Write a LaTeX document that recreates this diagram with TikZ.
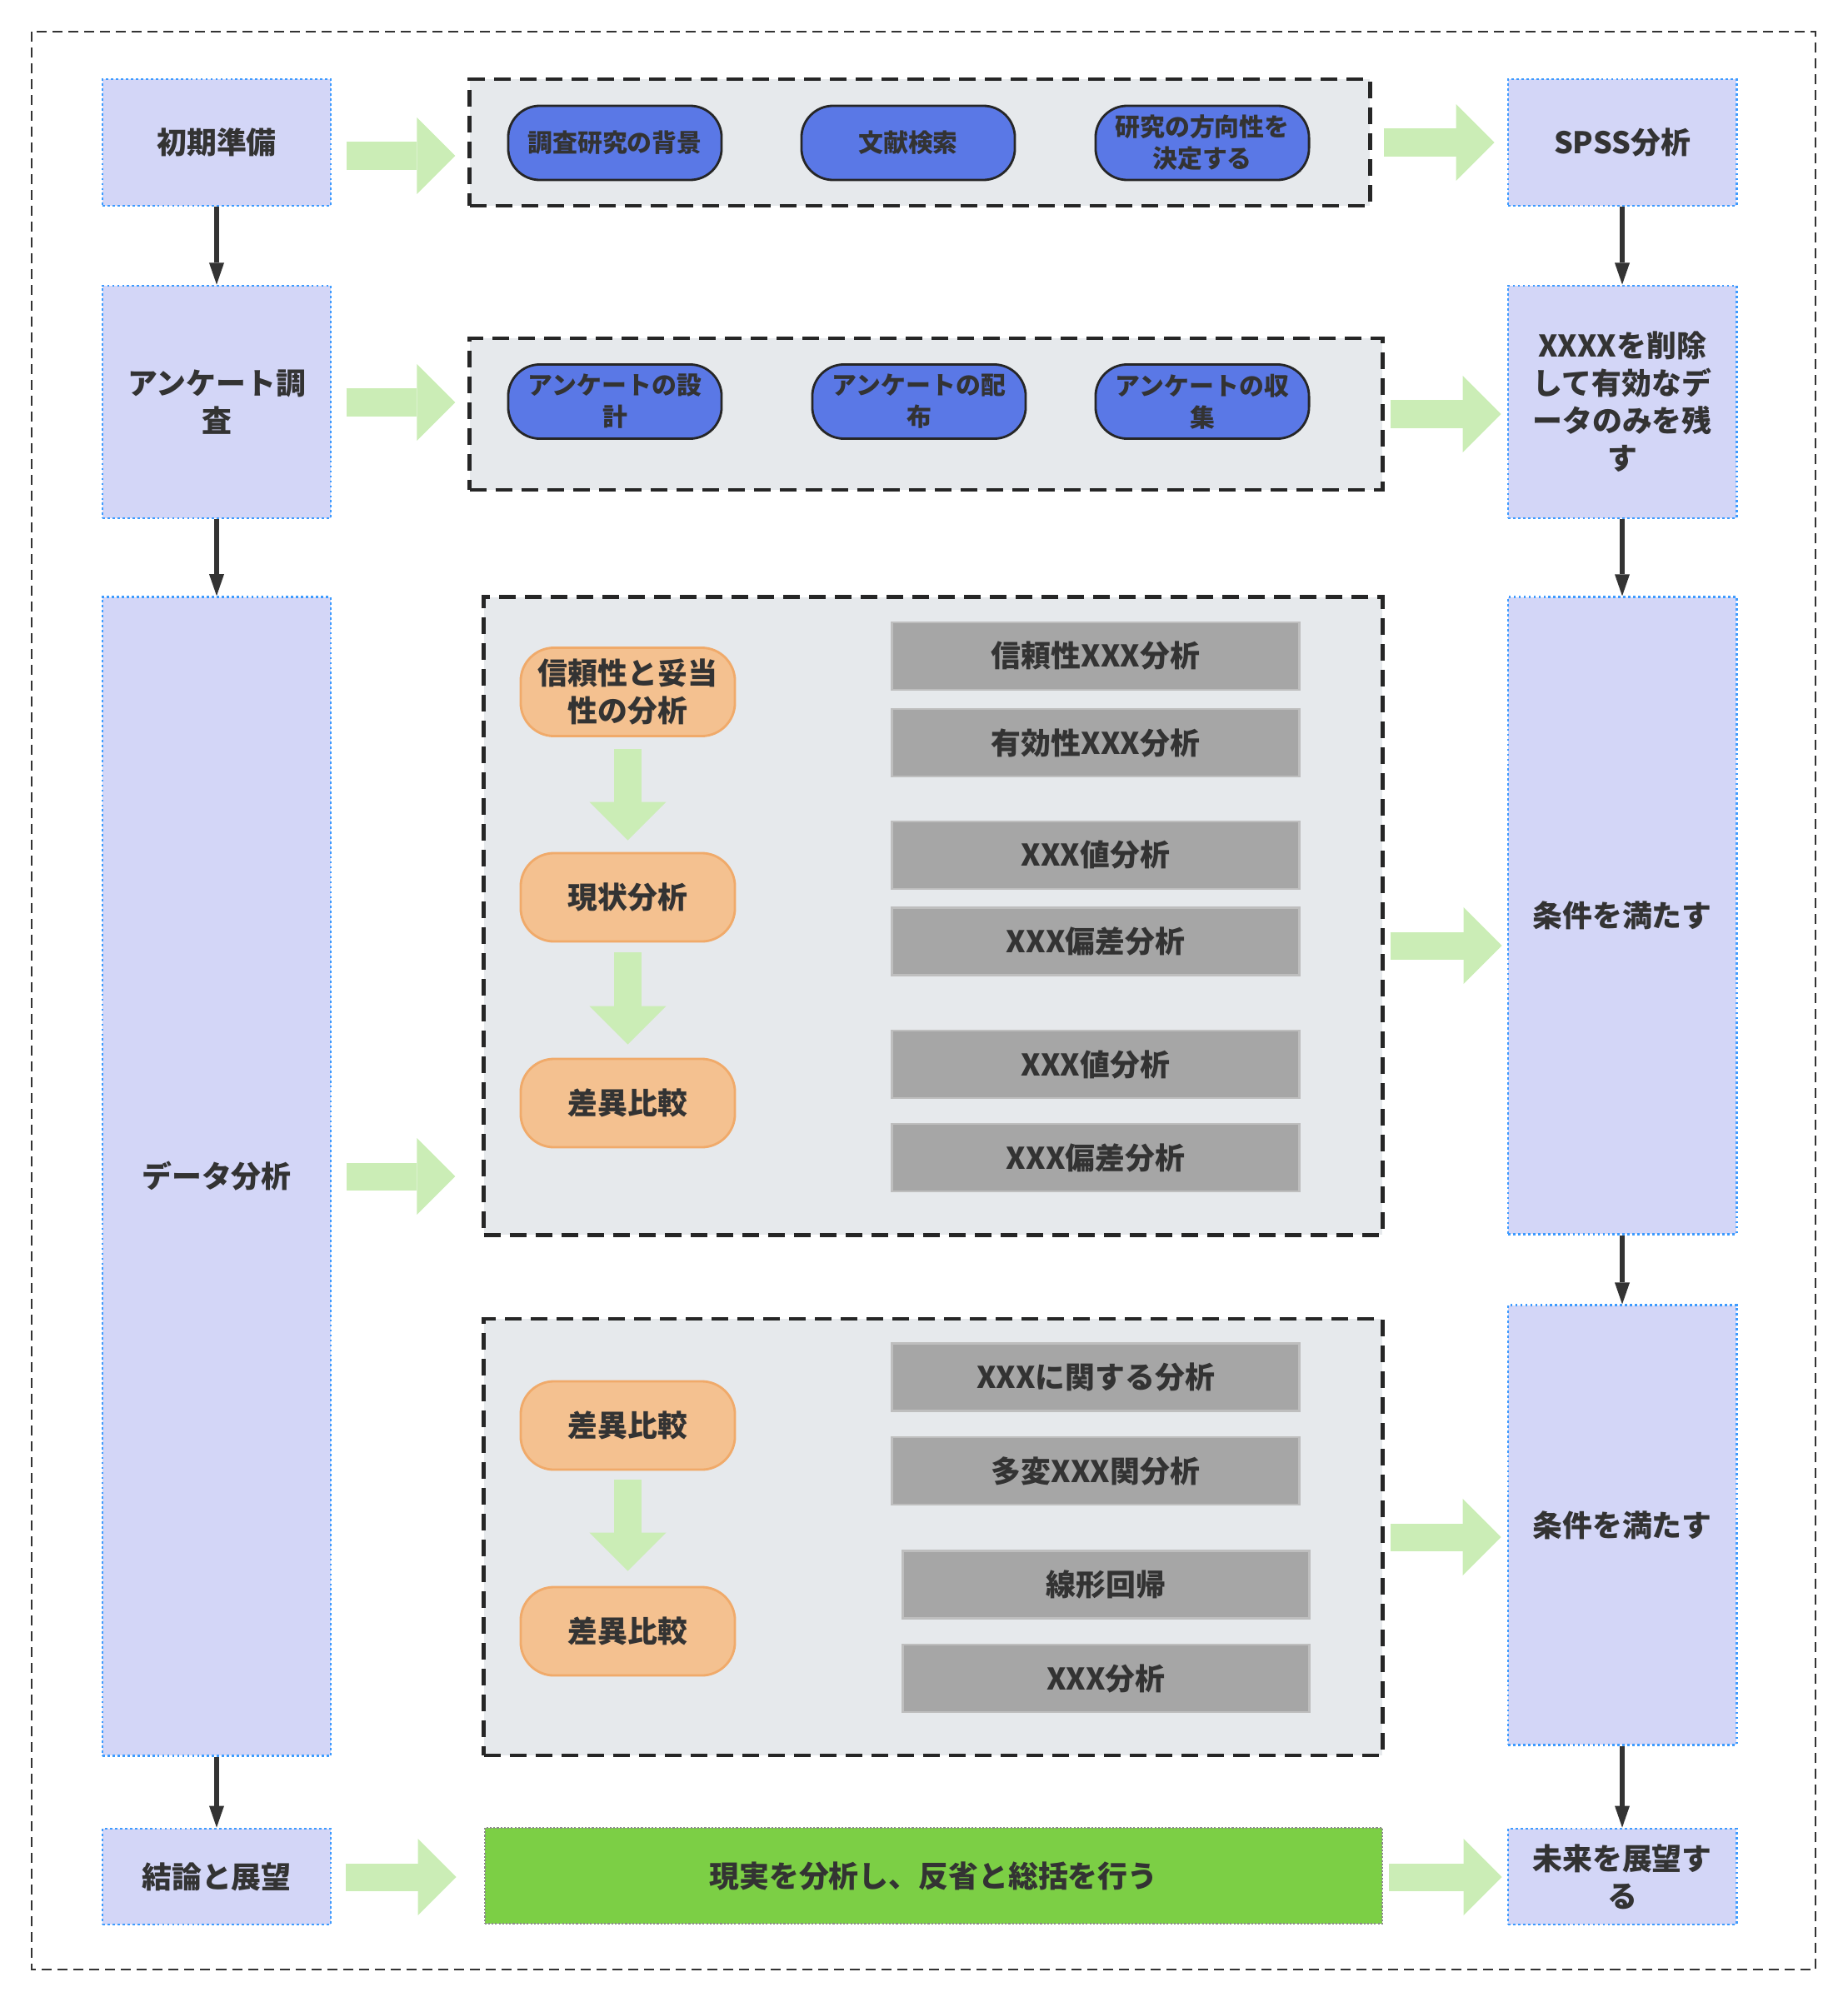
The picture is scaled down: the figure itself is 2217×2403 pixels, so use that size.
\documentclass[tikz,border=0pt]{standalone}
\usepackage{fontspec}
\setmainfont{Noto Sans CJK JP}
\usepackage{xcolor}
\usepackage{tikz}
\usetikzlibrary{arrows.meta}
\definecolor{PhaseFill}{HTML}{D3D6F7}
\definecolor{PhaseEdge}{HTML}{3D9BFF}
\definecolor{GroupFill}{HTML}{E6E9EC}
\definecolor{GroupEdge}{HTML}{262626}
\definecolor{PillBlue}{HTML}{5A78E6}
\definecolor{PillOrange}{HTML}{F4C190}
\definecolor{EdgeOrange}{HTML}{F0AA6A}
\definecolor{BoxGray}{HTML}{A6A6A6}
\definecolor{EdgeGray}{HTML}{BEBEBE}
\definecolor{ResultGreen}{HTML}{7CCF45}
\definecolor{ArrowGreen}{HTML}{CBEDB6}
\definecolor{TextDark}{HTML}{333333}
\tikzset{
  phase/.style={
    draw=PhaseEdge,fill=PhaseFill,line width=0.8pt,dash pattern=on 0.8pt off 0.9pt,
    minimum width=2.74cm,inner sep=2pt,align=center,
    font=\fontsize{10.2}{12.8}\selectfont\bfseries,text=TextDark
  },
  group/.style={
    draw=GroupEdge,fill=GroupFill,line width=1.3pt,dash pattern=on 0.2cm off 0.11cm
  },
  bluepill/.style={
    draw=GroupEdge,fill=PillBlue,line width=0.8pt,rounded corners=0.38cm,
    minimum width=2.56cm,minimum height=0.89cm,inner sep=1pt,align=center,
    font=\fontsize{8.5}{10.8}\selectfont\bfseries,text=TextDark
  },
  orpill/.style={
    draw=EdgeOrange,fill=PillOrange,line width=0.8pt,rounded corners=0.4cm,
    minimum width=2.57cm,minimum height=1.06cm,inner sep=1pt,align=center,
    font=\fontsize{10.2}{12.8}\selectfont\bfseries,text=TextDark
  },
  graybox/.style={
    draw=EdgeGray,fill=BoxGray,line width=0.8pt,
    minimum width=4.88cm,minimum height=0.81cm,inner sep=1pt,align=center,
    font=\fontsize{10.2}{12.8}\selectfont\bfseries,text=TextDark
  },
  result/.style={
    draw=black!45,fill=ResultGreen,line width=0.6pt,dash pattern=on 0.6pt off 0.6pt,
    minimum width=10.77cm,minimum height=1.15cm,align=center,
    font=\fontsize{10.2}{12.8}\selectfont\bfseries,text=TextDark
  },
  blockarrow/.style={
    draw=ArrowGreen,line width=0.33cm,
    -{Triangle[length=0.46cm,width=0.92cm,line width=0pt]}
  },
  flow/.style={
    draw=TextDark,line width=1.7pt,-{Triangle[length=0.26cm,width=0.18cm,line width=0pt]}
  },
}
\begin{document}
\begin{tikzpicture}[x=0.01cm,y=-0.01cm]
  \useasboundingbox (0,0) rectangle (2217,2403);
  \draw[draw=TextDark, line width=0.6pt, dash pattern=on 0.12cm off 0.07cm] (38,38) rectangle (2179,2364);
  \node[phase, minimum height=1.52cm] (init) at (260,171) {初期準備};
  \node[phase, minimum height=2.79cm] (survey) at (260,482.5) {アンケート調\\査};
  \node[phase, minimum height=13.9cm] (analysis) at (260,1412) {データ分析};
  \node[phase, minimum height=1.15cm] (concl) at (260,2252.5) {結論と展望};
  \node[phase, minimum height=1.52cm] (spss) at (1947,171) {SPSS分析};
  \node[phase, minimum height=2.79cm] (clean) at (1947,482.5) {XXXXを削除\\して有効なデ\\ータのみを残\\す};
  \node[phase, minimum height=7.64cm] (cond1) at (1947,1099) {条件を満たす};
  \node[phase, minimum height=5.27cm] (cond2) at (1947,1830.5) {条件を満たす};
  \node[phase, minimum height=1.15cm] (future) at (1947,2252.5) {未来を展望す\\る};
  \node[group, minimum width=10.8cm, minimum height=1.52cm] (prep) at (1104,171) {};
  \node[group, minimum width=10.95cm, minimum height=1.82cm] (quest) at (1111.5,497) {};
  \node[group, minimum width=10.78cm, minimum height=7.65cm] (stats) at (1120,1099.5) {};
  \node[group, minimum width=10.78cm, minimum height=5.24cm] (model) at (1120,1845) {};
  \node[result] (review) at (1120.5,2251.5) {現実を分析し、反省と総括を行う};
  \node[bluepill] (bg) at (738,171.5) {調査研究の背景};
  \node[bluepill] (lit) at (1090,171.5) {文献検索};
  \node[bluepill] (dir) at (1443,171.5) {研究の方向性を\\決定する};
  \node[bluepill] (design) at (738,482) {アンケートの設\\計};
  \node[bluepill] (deliver) at (1103,482) {アンケートの配\\布};
  \node[bluepill] (collect) at (1443,482) {アンケートの収\\集};
  \node[orpill] (rel) at (753.5,830.5) {信頼性と妥当\\性の分析};
  \node[orpill] (state) at (753.5,1077) {現状分析};
  \node[orpill] (diffa) at (753.5,1324) {差異比較};
  \node[orpill] (diffb) at (753.5,1711) {差異比較};
  \node[orpill] (diffc) at (753.5,1958) {差異比較};
  \node[graybox] (g1) at (1315,787.5) {信頼性XXX分析};
  \node[graybox] (g2) at (1315,891.5) {有効性XXX分析};
  \node[graybox] (g3) at (1315,1026.5) {XXX値分析};
  \node[graybox] (g4) at (1315,1130) {XXX偏差分析};
  \node[graybox] (g5) at (1315,1277.5) {XXX値分析};
  \node[graybox] (g6) at (1315,1389.5) {XXX偏差分析};
  \node[graybox] (g7) at (1315,1653) {XXXに関する分析};
  \node[graybox] (g8) at (1315,1765.5) {多変XXX関分析};
  \node[graybox] (g9) at (1327.5,1902) {線形回帰};
  \node[graybox] (g10) at (1327.5,2014.5) {XXX分析};
  \draw[flow] (init) -- (survey);
  \draw[flow] (survey) -- (analysis);
  \draw[flow] (analysis) -- (concl);
  \draw[flow] (spss) -- (clean);
  \draw[flow] (clean) -- (cond1);
  \draw[flow] (cond1) -- (cond2);
  \draw[flow] (cond2) -- (future);
  \draw[blockarrow, shorten <=0.17cm, shorten >=0.15cm] (init.east |- 0,187) -- (prep.west |- 0,187);
  \draw[blockarrow, shorten <=0.14cm, shorten >=0.15cm] (prep.east |- 0,171) -- (spss.west |- 0,171);
  \draw[blockarrow, shorten <=0.17cm, shorten >=0.15cm] (survey.east |- 0,483) -- (quest.west |- 0,483);
  \draw[blockarrow, shorten <=0.07cm, shorten >=0.07cm] (quest.east |- 0,497) -- (clean.west |- 0,497);
  \draw[blockarrow, shorten <=0.17cm, shorten >=0.32cm] (analysis.east |- 0,1412) -- (stats.west |- 0,1412);
  \draw[blockarrow, shorten <=0.07cm, shorten >=0.06cm] (stats.east |- 0,1135) -- (cond1.west |- 0,1135);
  \draw[blockarrow, shorten <=0.07cm, shorten >=0.07cm] (model.east |- 0,1845) -- (cond2.west |- 0,1845);
  \draw[blockarrow, shorten <=0.16cm, shorten >=0.33cm] (concl.east |- 0,2253) -- (review.west |- 0,2253);
  \draw[blockarrow, shorten <=0.07cm, shorten >=0.06cm] (review.east |- 0,2253) -- (future.west |- 0,2253);
  \draw[blockarrow, shorten <=0.14cm, shorten >=0.14cm] (rel) -- (state);
  \draw[blockarrow, shorten <=0.12cm, shorten >=0.16cm] (state) -- (diffa);
  \draw[blockarrow, shorten <=0.11cm, shorten >=0.18cm] (diffb) -- (diffc);
\end{tikzpicture}
\end{document}
